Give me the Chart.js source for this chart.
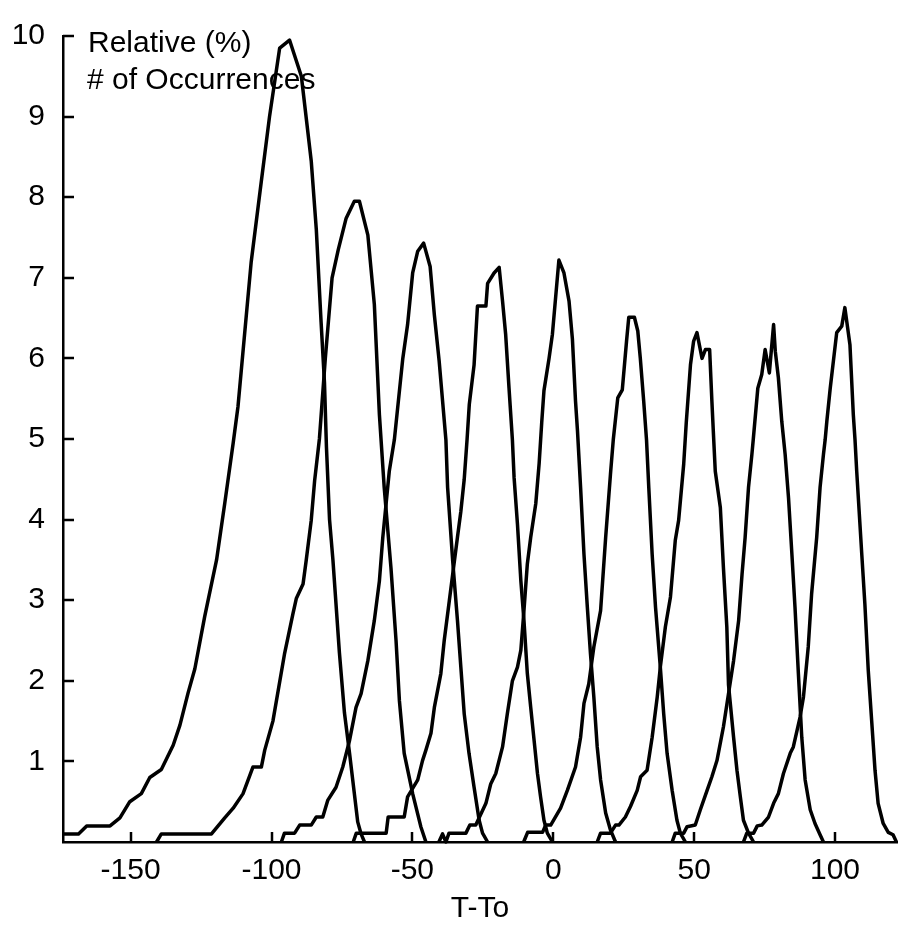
<!DOCTYPE html>
<html>
<head>
<meta charset="utf-8">
<script src="https://cdn.jsdelivr.net/npm/chart.js@4.4.0/dist/chart.umd.min.js"></script>
<style>
html,body{margin:0;padding:0;background:#fff;}
#wrap{width:899px;height:929px;position:relative;}
</style>
</head>
<body>
<div id="wrap"><canvas id="c"></canvas></div>
<script>
// Tick values
const xTickValues = [-150, -100, -50, 0, 50, 100];
const yTickValues = [1, 2, 3, 4, 5, 6, 7, 8, 9, 10];
const annotationLines = ["Relative (%)", "# of Occurrences"];
const xTitle = "T-To";

// Series (T-To, relative % of occurrences)
const s1x = [-174,-168.5,-165.6,-157.3,-153.8,-150.3,-146.2,-143.2,-139.1,-134.9,-132.5,-129.6,-127.2,-123.7,-119.5,-116.6,-113.6,-111.9,-107.2,-103.6,-100.7,-97.1,-93.6,-89.4,-85.9,-84.1,-82.4,-81.2,-80.5,-79.4,-78.2,-75.9,-74.1,-72.3,-69.4,-68.2,-67];
const s1y = [0.1,0.1,0.2,0.2,0.3,0.5,0.6,0.8,0.9,1.2,1.45,1.85,2.15,2.8,3.5,4.2,4.95,5.4,7.2,8.2,9.0,9.85,9.95,9.5,8.45,7.6,6.45,5.7,4.9,4.0,3.5,2.35,1.6,1.1,0.25,0.1,0];

const s2x = [-140.8,-139.1,-121.3,-116.6,-113.6,-110.1,-106.6,-103.6,-102.4,-99.5,-95.4,-92.4,-91.2,-88.8,-87.7,-85.9,-84.7,-83.0,-80.9,-78.5,-76.3,-73.5,-70.6,-68.8,-65.8,-63.5,-61.7,-60.0,-57.6,-55.8,-54.6,-52.9,-49.9,-47.0,-45.2];
const s2y = [0,0.1,0.1,0.3,0.42,0.6,0.93,0.93,1.14,1.5,2.33,2.83,3.02,3.2,3.49,3.99,4.48,5.0,6.0,7.0,7.35,7.74,7.95,7.95,7.53,6.67,5.3,4.4,3.4,2.5,1.75,1.1,0.6,0.19,0];

const s3x = [-96.5,-95.4,-91.8,-90.0,-85.9,-84.1,-81.8,-80.0,-77.1,-74.7,-72.3,-70.0,-68.2,-65.8,-63.5,-61.7,-60.5,-58.2,-56.4,-53.4,-51.7,-49.9,-48.1,-46.0,-43.7,-42.2,-40.5,-38.1,-37.5,-35.7,-34.0,-32.8,-31.6,-29.9,-28.1,-26.3,-25.1,-23.3];
const s3y = [0,0.11,0.11,0.21,0.21,0.31,0.31,0.52,0.68,0.93,1.26,1.67,1.84,2.25,2.75,3.24,3.78,4.6,4.99,6.0,6.42,7.06,7.33,7.43,7.14,6.54,5.97,4.99,4.4,3.49,2.75,2.17,1.59,1.1,0.68,0.27,0.11,0];

const s4x = [-71.0,-69.9,-59.3,-58.6,-52.9,-51.7,-48.1,-46.4,-45.2,-43.4,-42.2,-39.9,-38.7,-36.9,-35.7,-34.0,-32.8,-31.6,-30.6,-29.8,-28.1,-26.9,-23.9,-23.3,-21.0,-19.2,-18.0,-16.9,-15.7,-14.5,-13.9,-12.7,-11.5,-10.4,-9.2,-8.0,-6.8,-5.6,-4.5,-3.3,-2.1,-0.3];
const s4y = [0,0.11,0.11,0.31,0.31,0.56,0.77,1.01,1.14,1.35,1.67,2.09,2.5,2.99,3.32,3.78,4.1,4.5,4.99,5.43,5.92,6.65,6.65,6.93,7.06,7.13,6.71,6.3,5.63,4.99,4.52,3.94,3.24,2.75,2.09,1.67,1.26,0.85,0.56,0.27,0.11,0];

const s5x = [-40.6,-39.3,-38.1,-37.0,-31.0,-29.6,-27.5,-26.3,-23.9,-22.2,-20.4,-18.0,-16.3,-14.5,-12.7,-11.5,-10.4,-9.2,-8.0,-6.2,-5.0,-4.1,-3.3,-1.5,-0.3,2.0,3.8,5.6,6.8,7.9,8.6,9.7,10.9,12.1,13.2,14.4,15.6,16.8,18.6,20.3,22.1];
const s5y = [0,0.1,0,0.11,0.11,0.21,0.21,0.3,0.48,0.72,0.85,1.18,1.59,2.0,2.17,2.38,2.87,3.45,3.78,4.2,4.7,5.2,5.6,6.0,6.3,7.22,7.06,6.71,6.24,5.47,5.1,4.4,3.57,2.91,2.34,1.8,1.18,0.77,0.36,0.15,0];

const s6x = [-10.5,-9.1,-3.8,-2.7,-0.9,2.6,5.0,7.9,9.7,10.9,12.6,14.4,16.8,18.6,20.3,21.3,22.9,24.5,26.0,26.8,28.8,30.0,30.9,32.1,33.1,33.9,35.1,36.3,38.0,39.2,40.4,42.2,43.9,45.1,46.9];
const s6y = [0,0.12,0.12,0.21,0.21,0.42,0.64,0.93,1.3,1.72,1.96,2.42,2.87,3.78,4.56,4.99,5.51,5.61,6.21,6.51,6.51,6.34,6.0,5.47,4.99,4.4,3.57,2.91,2.17,1.59,1.1,0.64,0.27,0.11,0];

const s7x = [15.6,16.8,20.3,22.1,23.3,25.6,27.4,29.8,31.0,33.3,35.1,36.9,38.0,39.8,41.6,43.3,44.5,46.3,47.2,48.7,49.8,51.0,52.8,54.0,55.5,56.3,56.8,57.5,59.3,60.4,61.6,62.2,64.0,65.2,66.4,67.5,69.3,71.1];
const s7y = [0,0.11,0.11,0.21,0.21,0.31,0.44,0.64,0.81,0.89,1.3,1.8,2.17,2.67,3.04,3.74,3.99,4.69,5.2,5.92,6.21,6.32,6.0,6.11,6.11,5.47,5.1,4.6,4.15,3.4,2.67,1.95,1.3,0.89,0.56,0.27,0.11,0];

const s8x = [42.2,43.3,46.3,47.5,50.4,52.2,54.6,56.3,58.1,60.4,62.2,64.0,65.8,67.0,68.1,69.3,70.5,71.0,72.6,74.0,75.2,76.7,78.2,78.8,79.9,81.1,82.3,83.5,84.7,85.8,87.0,88.2,89.4,91.2,92.9,94.7,95.9];
const s8y = [0,0.11,0.11,0.19,0.21,0.4,0.64,0.81,1.01,1.43,1.84,2.25,2.75,3.32,3.78,4.4,4.81,5.0,5.63,5.8,6.11,5.82,6.42,6.09,5.76,5.22,4.81,4.27,3.57,2.91,2.09,1.3,0.77,0.4,0.23,0.09,0];

const s9x = [67.5,68.7,71.1,72.4,74.0,76.4,78.2,79.9,81.7,84.1,85.2,87.6,88.8,90.5,91.7,93.5,94.7,95.9,96.5,97.1,98.3,100.6,102.4,103.5,105.3,106.5,107.1,107.7,109.5,110.6,111.8,113.0,114.2,115.3,117.1,118.9,120.6,121.8];
const s9y = [0,0.11,0.11,0.2,0.21,0.31,0.48,0.6,0.85,1.1,1.18,1.55,1.8,2.42,3.08,3.78,4.4,4.81,4.99,5.22,5.63,6.32,6.4,6.63,6.17,5.3,4.99,4.6,3.57,2.95,2.13,1.51,0.89,0.48,0.23,0.12,0.09,0];

const seriesX = [s1x, s2x, s3x, s4x, s5x, s6x, s7x, s8x, s9x];
const seriesY = [s1y, s2y, s3y, s4y, s5y, s6y, s7y, s8y, s9y];

const FONT = 'Liberation Sans';

const datasets = seriesX.map((xs, i) => ({
  label: 'S' + (i + 1),
  data: xs.map((x, j) => ({x: x, y: seriesY[i][j]})),
  showLine: true,
  borderColor: '#000',
  borderWidth: 3.5,
  pointRadius: 0,
  tension: 0,
  fill: false,
  clip: false,
  borderJoinStyle: 'round'
}));

const decor = {
  id: 'decor',
  beforeDatasetsDraw(chart) {
    const {ctx, chartArea: a} = chart;
    ctx.save();
    ctx.fillStyle = '#000';
    ctx.font = '30px "' + FONT + '"';
    ctx.textBaseline = 'middle';
    ctx.textAlign = 'left';
    ctx.fillText(annotationLines[0], a.left + 25, 44);
    ctx.fillText(annotationLines[1], a.left + 24, 81);
    ctx.restore();
  },
  afterDraw(chart) {
    const {ctx, chartArea: a, scales: {x, y}} = chart;
    ctx.save();
    ctx.strokeStyle = '#000';
    ctx.lineWidth = 2.5;
    ctx.beginPath();
    xTickValues.forEach(v => {
      const px = Math.round(x.getPixelForValue(v));
      ctx.moveTo(px, a.bottom);
      ctx.lineTo(px, a.bottom - 10);
    });
    yTickValues.forEach(v => {
      const py = Math.round(y.getPixelForValue(v));
      ctx.moveTo(a.left, py);
      ctx.lineTo(a.left + 11, py);
    });
    ctx.stroke();
    ctx.restore();
  }
};

new Chart(document.getElementById('c'), {
  type: 'scatter',
  data: {datasets},
  options: {
    responsive: true,
    maintainAspectRatio: false,
    animation: false,
    layout: {padding: {left: 0, right: 2, top: 34, bottom: 0}},
    plugins: {legend: {display: false}, tooltip: {enabled: false}, title: {display: false}},
    scales: {
      x: {
        type: 'linear',
        min: -174,
        max: 122,
        afterFit(s) { s.height = 87; },
        grid: {display: false, drawTicks: false},
        border: {display: true, color: '#000', width: 2.5},
        afterBuildTicks(s) { s.ticks = xTickValues.map(v => ({value: v})); },
        ticks: {
          font: {family: FONT, size: 30},
          color: '#000',
          padding: 11,
          maxRotation: 0,
          autoSkip: false
        },
        title: {
          display: true,
          text: xTitle,
          color: '#000',
          font: {family: FONT, size: 30},
          padding: {top: 0, bottom: 2}
        }
      },
      y: {
        min: 0,
        max: 10,
        afterFit(s) { s.width = 63; },
        grid: {display: false, drawTicks: false},
        border: {display: true, color: '#000', width: 2.5},
        afterBuildTicks(s) { s.ticks = yTickValues.map(v => ({value: v})); },
        ticks: {
          font: {family: FONT, size: 30},
          color: '#000',
          padding: 18,
          autoSkip: false
        }
      }
    }
  },
  plugins: [decor]
});
</script>
</body>
</html>
